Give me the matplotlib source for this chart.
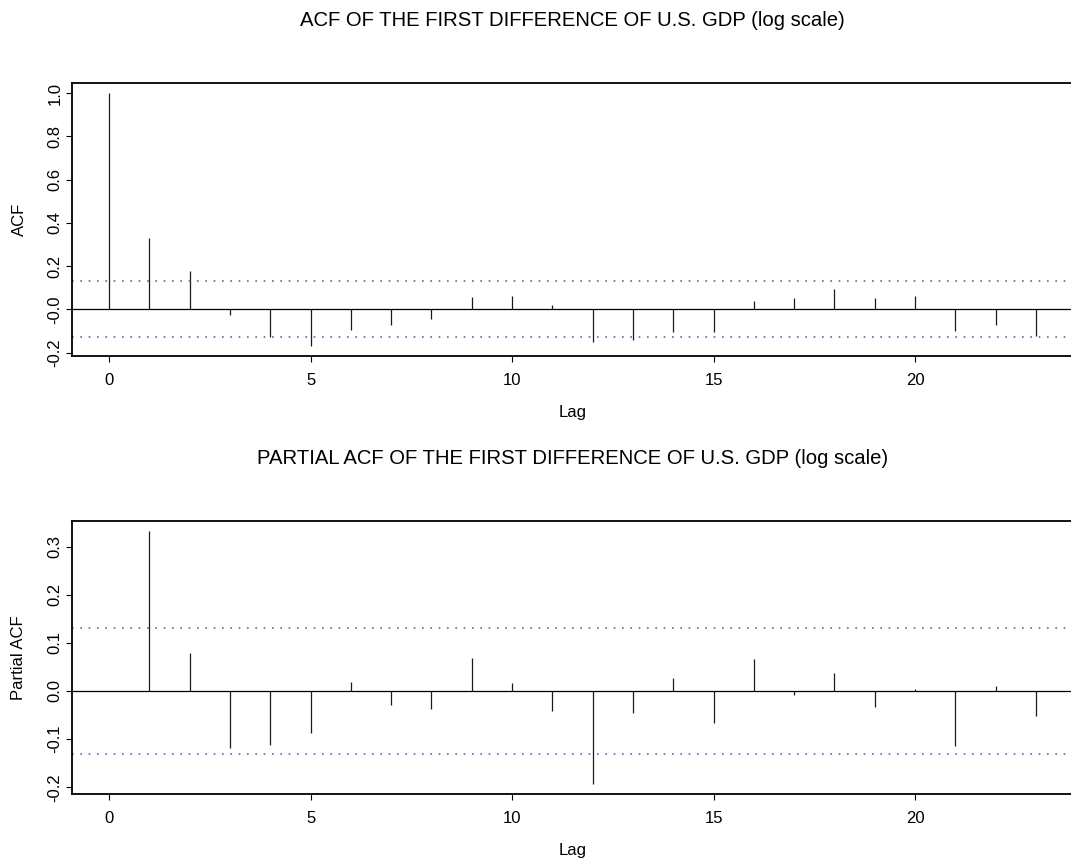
import matplotlib
matplotlib.use("Agg")
import matplotlib.pyplot as plt

plt.rcParams['font.family'] = ['Liberation Sans', 'DejaVu Sans']

# ---- data ----
acf_lags = list(range(0, 24))
acf_vals = [1.0, 0.330, 0.179, -0.028, -0.130, -0.169, -0.095, -0.074, -0.046, 0.055,
            0.060, 0.020, -0.152, -0.143, -0.106, -0.104, 0.037, 0.051, 0.094, 0.052,
            0.061, -0.100, -0.074, -0.124]
pacf_lags = list(range(1, 24))
pacf_vals = [0.332, 0.078, -0.119, -0.112, -0.088, 0.019, -0.030, -0.037, 0.068, 0.017,
             -0.042, -0.193, -0.046, 0.026, -0.067, 0.067, -0.008, 0.037, -0.034, 0.004,
             -0.114, 0.010, -0.051]
conf_band = 0.13

x_ticks = [0, 5, 10, 15, 20]
x_tick_labels = ["0", "5", "10", "15", "20"]
acf_yticks = [-0.2, 0.0, 0.2, 0.4, 0.6, 0.8, 1.0]
acf_ytick_labels = ["-0.2", "-0.0", "0.2", "0.4", "0.6", "0.8", "1.0"]
pacf_yticks = [-0.2, -0.1, 0.0, 0.1, 0.2, 0.3]
pacf_ytick_labels = ["-0.2", "-0.1", "0.0", "0.1", "0.2", "0.3"]

titles = ["ACF OF THE FIRST DIFFERENCE OF U.S. GDP (log scale)",
          "PARTIAL ACF OF THE FIRST DIFFERENCE OF U.S. GDP (log scale)"]
ylabels = ["ACF", "Partial ACF"]
xlabel = "Lag"

W, H = 1071, 863
fig = plt.figure(figsize=(W / 100, H / 100), dpi=100)

def px_axes(left, top, right, bottom):
    return fig.add_axes([left / W, 1 - bottom / H, (right - left) / W, (bottom - top) / H])

band_color = '#3f73b8'
bar_color = '#1a1a1a'

def rlim(vals):
    lo, hi = min(vals + [0.0]), max(vals)
    d = (hi - lo) * 0.04
    return lo - d, hi + d

panels = [
    (83, 356, acf_lags, acf_vals, acf_yticks, acf_ytick_labels),
    (521, 794, pacf_lags, pacf_vals, pacf_yticks, pacf_ytick_labels),
]

AX_L, AX_R = 72, 1073

for i, (top, bottom, lags, vals, yt, ytl) in enumerate(panels):
    ax = px_axes(AX_L, top, AX_R, bottom)
    ax.set_xlim(-0.92, 23.92)
    ax.set_ylim(*rlim(vals))
    ax.vlines(lags, 0, vals, color=bar_color, lw=0.9)
    ax.axhline(0, color='black', lw=0.9)
    for b in (conf_band, -conf_band):
        ax.axhline(b, color=band_color, lw=1.2, linestyle=(0, (1, 4)))
    ax.set_xticks(x_ticks)
    ax.set_xticklabels(x_tick_labels, fontsize=12)
    ax.set_yticks(yt)
    ax.set_yticklabels(ytl, fontsize=12, rotation=90, va='center')
    ax.tick_params(axis='both', direction='out', length=4.3, width=0.8, color='black')
    ax.tick_params(axis='x', pad=8)
    ax.tick_params(axis='y', pad=2.5)
    for s in ax.spines.values():
        s.set_linewidth(1.3)
        s.set_color('black')
    ax.set_ylabel(ylabels[i], fontsize=12)
    ax.yaxis.set_label_coords((19 - AX_L) / (AX_R - AX_L), 0.5)
    ax.yaxis.label.set_va('center')
    ax.set_xlabel(xlabel, fontsize=12, labelpad=12)
    ax.set_title(titles[i], fontsize=14.6, pad=41)

fig.savefig("out.png", dpi=100)
